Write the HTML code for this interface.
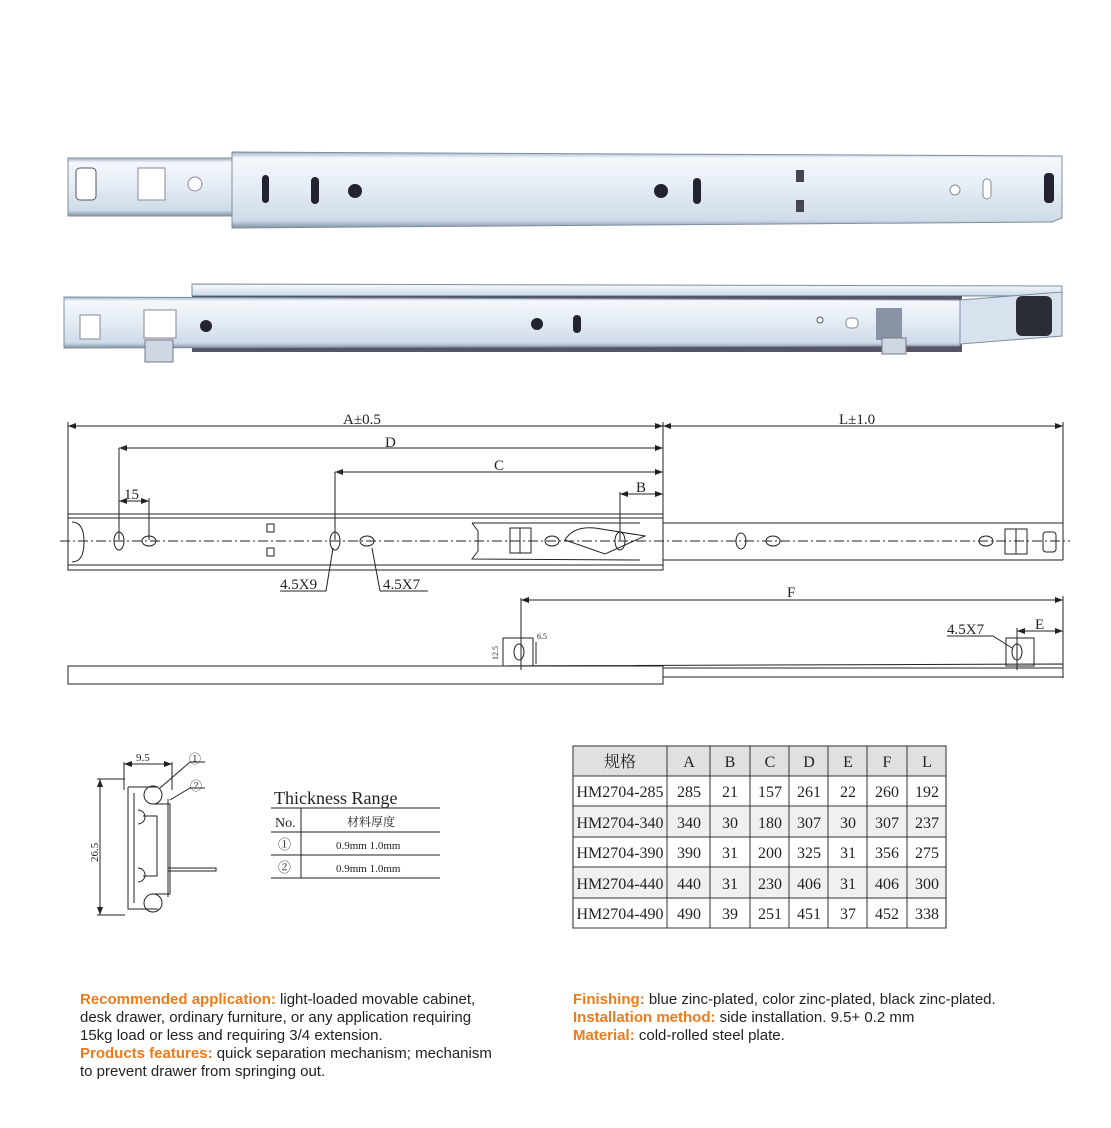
<!DOCTYPE html>
<html><head><meta charset="utf-8"><style>
html,body{margin:0;padding:0;background:#fff;}
body{width:1111px;height:1128px;position:relative;overflow:hidden;font-family:"Liberation Sans",sans-serif;}
.t{position:absolute;font-size:15px;line-height:18px;color:#222;white-space:nowrap;}
.o{color:#ee7a1a;font-weight:bold;}
svg text{font-family:"Liberation Serif","Noto Serif CJK SC",serif;fill:#222;}
</style></head><body>
<svg width="1111" height="1128" style="position:absolute;left:0;top:0">
<defs>
<linearGradient id="g1" x1="0" y1="0" x2="0" y2="1">
<stop offset="0" stop-color="#9fb1c4"/><stop offset="0.08" stop-color="#f4f8fc"/><stop offset="0.5" stop-color="#e3ebf4"/><stop offset="0.9" stop-color="#cfdbe8"/><stop offset="1" stop-color="#8193a6"/></linearGradient>
<marker id="ar" markerWidth="8" markerHeight="6" refX="8" refY="3" orient="auto-start-reverse"><path d="M0,0 L8,3 L0,6 z" fill="#222"/></marker>
</defs>
<rect x="68" y="158" width="170" height="58" fill="url(#g1)" stroke="#7f8fa0"/>
<rect x="76" y="168" width="20" height="32" rx="4" fill="#fff" stroke="#556"/>
<polygon points="138,168 165,168 165,200 138,200" fill="#fff" stroke="#889"/>
<circle cx="195" cy="184" r="7" fill="#fff" stroke="#889"/>
<path d="M232,152 L1062,156 L1062,218 L1052,222 L232,228 Z" fill="url(#g1)" stroke="#7f8fa0"/>
<rect x="262" y="175" width="7" height="28" rx="3.5" fill="#223"/>
<rect x="311" y="177" width="8" height="27" rx="4" fill="#223"/>
<circle cx="355" cy="191" r="7" fill="#223"/>
<circle cx="661" cy="191" r="7" fill="#223"/>
<rect x="693" y="178" width="8" height="26" rx="4" fill="#223"/>
<rect x="796" y="170" width="8" height="12" fill="#445"/><rect x="796" y="200" width="8" height="12" fill="#445"/>
<circle cx="955" cy="190" r="5" fill="#fff" stroke="#889"/>
<rect x="983" y="179" width="8" height="20" rx="4" fill="#fff" stroke="#889"/>
<rect x="1044" y="173" width="10" height="30" rx="4" fill="#223"/>
<path d="M192,284 L1062,286 L1062,296 L192,296 Z" fill="url(#g1)" stroke="#7f8fa0"/>
<rect x="192" y="296" width="770" height="56" fill="#556"/>
<path d="M64,297 L960,300 L960,346 L64,348 Z" fill="url(#g1)" stroke="#7f8fa0"/>
<path d="M960,300 L1062,292 L1062,336 L960,344Z" fill="#d8e2ee" stroke="#7f8fa0"/>
<rect x="1016" y="296" width="36" height="40" rx="6" fill="#2a2d35"/>
<rect x="80" y="315" width="20" height="24" fill="#fff" stroke="#889"/>
<rect x="144" y="310" width="32" height="28" fill="#fff" stroke="#889"/>
<rect x="145" y="340" width="28" height="22" fill="#cfd8e2" stroke="#778"/>
<circle cx="206" cy="326" r="6" fill="#223"/><circle cx="537" cy="324" r="6" fill="#223"/>
<rect x="573" y="315" width="8" height="18" rx="4" fill="#223"/>
<circle cx="820" cy="320" r="3" fill="#fff" stroke="#556"/><rect x="846" y="318" width="12" height="10" rx="4" fill="#fff" stroke="#889"/>
<rect x="876" y="308" width="26" height="32" fill="#8894a4"/>
<rect x="882" y="338" width="24" height="16" fill="#cfd8e2" stroke="#778"/>
<g stroke="#222" fill="none" stroke-width="1">
<line x1="68" y1="422" x2="68" y2="570"/><line x1="663" y1="422" x2="663" y2="570"/><line x1="1063" y1="422" x2="1063" y2="560"/>
<line x1="68" y1="426" x2="663" y2="426" marker-start="url(#ar)" marker-end="url(#ar)"/><line x1="663" y1="426" x2="1063" y2="426" marker-start="url(#ar)" marker-end="url(#ar)"/>
<line x1="119" y1="448" x2="663" y2="448" marker-start="url(#ar)" marker-end="url(#ar)"/><line x1="119" y1="448" x2="119" y2="540"/>
<line x1="335" y1="472" x2="663" y2="472" marker-start="url(#ar)" marker-end="url(#ar)"/><line x1="335" y1="472" x2="335" y2="540"/>
<line x1="620" y1="494" x2="663" y2="494" marker-start="url(#ar)" marker-end="url(#ar)"/><line x1="620" y1="492" x2="620" y2="540"/>
<line x1="119" y1="501" x2="149" y2="501" marker-start="url(#ar)" marker-end="url(#ar)"/><line x1="149" y1="498" x2="149" y2="540"/>
<rect x="68" y="514" width="595" height="56"/><line x1="68" y1="518" x2="663" y2="518"/><line x1="68" y1="565" x2="663" y2="565"/>
<line x1="663" y1="523" x2="1063" y2="523"/><line x1="663" y1="560" x2="1063" y2="560"/>
<path d="M72,522 q12,0 12,20 q0,20 -12,20"/>
<ellipse cx="119" cy="541" rx="5" ry="9"/><ellipse cx="149" cy="541" rx="7" ry="5"/>
<ellipse cx="335" cy="541" rx="5" ry="9"/><ellipse cx="367" cy="541" rx="7" ry="5"/>
<rect x="267" y="524" width="7" height="8"/><rect x="267" y="548" width="7" height="8"/>
<path d="M472,523 L640,523 M472,523 l6,8 v20 l-6,8 L640,560"/>
<rect x="510" y="528" width="21" height="25"/><line x1="520" y1="528" x2="520" y2="553"/>
<ellipse cx="552" cy="541" rx="7" ry="5"/><path d="M565,540 q8,-14 30,-12 l50,8 l-40,18 z"/>
<ellipse cx="620" cy="541" rx="5" ry="9"/>
<ellipse cx="741" cy="541" rx="5" ry="8"/><ellipse cx="773" cy="541" rx="7" ry="5"/>
<ellipse cx="986" cy="541" rx="7" ry="5"/><rect x="1005" y="529" width="22" height="25"/><line x1="1016" y1="529" x2="1016" y2="554"/>
<rect x="1043" y="532" width="13" height="20" rx="3"/>
<line x1="60" y1="541" x2="1070" y2="541" stroke-dasharray="10,3,2,3"/>
<path d="M280,591 L326,591 L333,548"/><path d="M380,591 L428,591 M380,591 L372,548"/>
<line x1="521" y1="600" x2="1063" y2="600" marker-start="url(#ar)" marker-end="url(#ar)"/><line x1="521" y1="598" x2="521" y2="670"/><line x1="1063" y1="596" x2="1063" y2="678"/>
<rect x="68" y="666" width="595" height="18"/>
<path d="M472,666 L1063,664 M663,668 L1063,668 M663,677 L1063,677 L1063,664"/>
<rect x="503" y="638" width="30" height="28"/><ellipse cx="519" cy="652" rx="5" ry="8"/>
<line x1="536" y1="642" x2="536" y2="664"/>
<rect x="1006" y="638" width="28" height="28"/><ellipse cx="1017" cy="652" rx="5" ry="8"/>
<line x1="1017" y1="628" x2="1017" y2="670"/><line x1="1017" y1="631" x2="1063" y2="631" marker-start="url(#ar)" marker-end="url(#ar)"/>
<path d="M947,636 L993,636 L1012,648"/>
<line x1="124" y1="764" x2="172" y2="764" marker-start="url(#ar)" marker-end="url(#ar)"/><line x1="124" y1="762" x2="124" y2="790"/><line x1="172" y1="762" x2="172" y2="790"/>
<line x1="100" y1="779" x2="100" y2="915" marker-start="url(#ar)" marker-end="url(#ar)"/><line x1="97" y1="779" x2="125" y2="779"/><line x1="97" y1="915" x2="125" y2="915"/>
<path d="M128,787 h30 M128,787 v122 h30 M168,799 v98"/>
<path d="M134,793 v110 M152,804 h18 v90 h-18"/>
<circle cx="153" cy="795" r="9"/><circle cx="153" cy="903" r="9"/>
<path d="M138,810 a7,7 0 0 1 0,14 M138,868 a7,7 0 0 1 0,14"/>
<path d="M143,816 h14 v60 h-14 M168,868 h48 v3 h-48"/>
<path d="M160,788 L190,762 L205,762 M170,800 L190,788 L205,788"/>
<path d="M271,808 H440 M271,832 H440 M271,855 H440 M271,878 H440 M301,808 V878"/>
<rect x="573" y="746" width="373" height="182"/>
</g>
<rect x="574" y="747" width="371" height="29" fill="#e0e0e0"/>
<rect x="574" y="807" width="371" height="30" fill="#f0f0f0"/>
<rect x="574" y="868" width="371" height="30" fill="#f0f0f0"/>
<g stroke="#333" stroke-width="1">
<path d="M573,776 H946 M573,806 H946 M573,837 H946 M573,867 H946 M573,898 H946 M573,928 H946"/>
<path d="M667,746 V928 M710,746 V928 M750,746 V928 M789,746 V928 M828,746 V928 M867,746 V928 M907,746 V928"/>
</g>
<g font-size="15">
<text x="343" y="424">A±0.5</text><text x="839" y="424">L±1.0</text>
<text x="385" y="447">D</text><text x="494" y="470">C</text><text x="636" y="492">B</text>
<text x="124" y="499">15</text>
<text x="280" y="589">4.5X9</text><text x="383" y="589">4.5X7</text>
<text x="787" y="597">F</text><text x="947" y="634">4.5X7</text><text x="1035" y="629">E</text>
<text x="537" y="639" font-size="8">6.5</text>
<text x="498" y="660" font-size="8" transform="rotate(-90 498 660)">12.5</text>
<text x="136" y="761" font-size="11">9.5</text>
<text x="98" y="862" font-size="11" transform="rotate(-90 98 862)">26.5</text>
<text x="189" y="763" font-size="12">①</text><text x="190" y="790" font-size="12">②</text>
<text x="274" y="804" font-size="18">Thickness Range</text>
<text x="275" y="827" font-size="14">No.</text><text x="347" y="826" font-size="12">材料厚度</text>
<text x="278" y="849" font-size="13">①</text><text x="278" y="872" font-size="13">②</text>
<text x="336" y="849" font-size="11">0.9mm 1.0mm</text><text x="336" y="872" font-size="11">0.9mm 1.0mm</text>
</g>
<g font-size="16" text-anchor="middle">
<text x="620" y="767">规格</text><text x="689" y="767">A</text><text x="730" y="767">B</text><text x="770" y="767">C</text><text x="809" y="767">D</text><text x="848" y="767">E</text><text x="887" y="767">F</text><text x="927" y="767">L</text>
<text x="620" y="797">HM2704-285</text><text x="689" y="797">285</text><text x="730" y="797">21</text><text x="770" y="797">157</text><text x="809" y="797">261</text><text x="848" y="797">22</text><text x="887" y="797">260</text><text x="927" y="797">192</text>
<text x="620" y="828">HM2704-340</text><text x="689" y="828">340</text><text x="730" y="828">30</text><text x="770" y="828">180</text><text x="809" y="828">307</text><text x="848" y="828">30</text><text x="887" y="828">307</text><text x="927" y="828">237</text>
<text x="620" y="858">HM2704-390</text><text x="689" y="858">390</text><text x="730" y="858">31</text><text x="770" y="858">200</text><text x="809" y="858">325</text><text x="848" y="858">31</text><text x="887" y="858">356</text><text x="927" y="858">275</text>
<text x="620" y="889">HM2704-440</text><text x="689" y="889">440</text><text x="730" y="889">31</text><text x="770" y="889">230</text><text x="809" y="889">406</text><text x="848" y="889">31</text><text x="887" y="889">406</text><text x="927" y="889">300</text>
<text x="620" y="919">HM2704-490</text><text x="689" y="919">490</text><text x="730" y="919">39</text><text x="770" y="919">251</text><text x="809" y="919">451</text><text x="848" y="919">37</text><text x="887" y="919">452</text><text x="927" y="919">338</text>
</g>
</svg>
<div class="t" style="left:80px;top:991px;"><span class="o">Recommended application:</span> light-loaded movable cabinet,<br>desk drawer, ordinary furniture, or any application requiring<br>15kg load or less and requiring 3/4 extension.<br><span class="o">Products features:</span> quick separation mechanism; mechanism<br>to prevent drawer from springing out.</div>
<div class="t" style="left:573px;top:991px;"><span class="o">Finishing:</span> blue zinc-plated, color zinc-plated, black zinc-plated.<br><span class="o">Installation method:</span> side installation. 9.5+ 0.2 mm<br><span class="o">Material:</span> cold-rolled steel plate.</div>
</body></html>
